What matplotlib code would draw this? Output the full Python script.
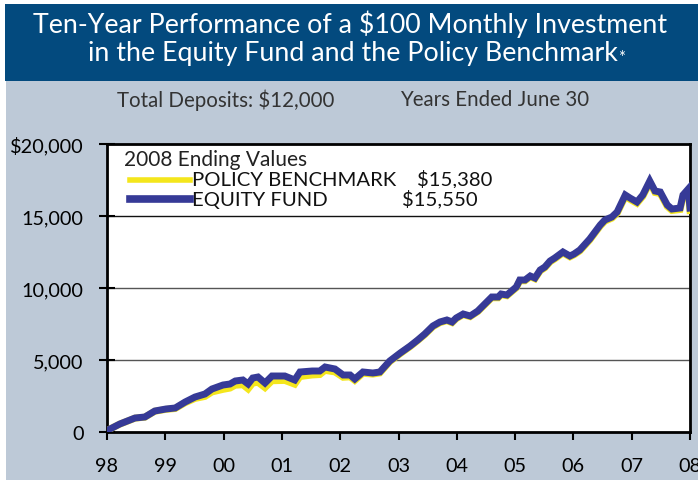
import matplotlib
matplotlib.use('Agg')
import matplotlib.pyplot as plt
from matplotlib.patches import Rectangle
from matplotlib.ticker import FuncFormatter

plt.rcParams['font.family'] = ['Lato', 'DejaVu Sans']

# decimal years (June 30 = .0)
years = [1998.00, 1998.22, 1998.48, 1998.65, 1998.82, 1999.01, 1999.17, 1999.34,
         1999.51, 1999.68, 1999.80, 1999.99, 2000.11, 2000.20, 2000.33, 2000.42,
         2000.50, 2000.59, 2000.71, 2000.83, 2001.05, 2001.22, 2001.31, 2001.52,
         2001.65, 2001.74, 2001.91, 2002.05, 2002.17, 2002.25, 2002.39, 2002.56,
         2002.68, 2002.85, 2003.03, 2003.20, 2003.33, 2003.45, 2003.59, 2003.71,
         2003.83, 2003.92, 2003.99, 2004.11, 2004.23, 2004.36, 2004.48, 2004.60,
         2004.71, 2004.76, 2004.86, 2004.96, 2005.02, 2005.08, 2005.17, 2005.26,
         2005.34, 2005.43, 2005.51, 2005.60, 2005.68, 2005.82, 2005.94, 2006.01,
         2006.11, 2006.28, 2006.46, 2006.54, 2006.66, 2006.75, 2006.89, 2006.97,
         2007.09, 2007.19, 2007.31, 2007.40, 2007.49, 2007.61, 2007.69, 2007.83,
         2007.88, 2007.97, 2008.00]

equity = [100, 556, 972, 1042, 1458, 1597, 1667, 2083,
          2430, 2639, 2986, 3264, 3333, 3542, 3611, 3333,
          3750, 3819, 3403, 3889, 3889, 3611, 4167, 4236,
          4236, 4514, 4375, 3958, 3958, 3681, 4167, 4097,
          4167, 4930, 5486, 5972, 6389, 6805, 7361, 7639,
          7778, 7639, 7917, 8194, 8055, 8402, 8889, 9375,
          9375, 9583, 9514, 9861, 10069, 10555, 10555, 10833,
          10694, 11250, 11458, 11875, 12083, 12500, 12222, 12361,
          12639, 13402, 14375, 14722, 14930, 15277, 16458, 16250,
          15972, 16458, 17430, 16736, 16666, 15764, 15486, 15555,
          16458, 16875, 15550]

benchmark = [100, 550, 960, 1030, 1440, 1570, 1630, 2030,
             2330, 2470, 2780, 2960, 3050, 3250, 3280, 2990,
             3400, 3450, 3080, 3560, 3580, 3320, 3850, 3960,
             3990, 4280, 4170, 3800, 3830, 3580, 4080, 4020,
             4100, 4880, 5440, 5930, 6350, 6760, 7310, 7590,
             7730, 7590, 7870, 8150, 8010, 8360, 8840, 9320,
             9320, 9530, 9460, 9810, 10010, 10500, 10500, 10780,
             10640, 11190, 11400, 11810, 12020, 12430, 12160, 12300,
             12570, 13330, 14300, 14640, 14850, 15190, 16360, 16150,
             15880, 16360, 17320, 16630, 16560, 15660, 15380, 15450,
             16340, 16740, 15380]

xticks = [1998, 1999, 2000, 2001, 2002, 2003, 2004, 2005, 2006, 2007, 2008]
xlabels = ['98', '99', '00', '01', '02', '03', '04', '05', '06', '07', '08']
yticks = [0, 5000, 10000, 15000, 20000]

band = '#034a7e'
bg = '#bdc9d7'
navy = '#363a97'
yellow = '#f4e61c'

fig = plt.figure(figsize=(6.98, 4.81), dpi=100)
W, H = 698.0, 481.0
fig.patches.append(Rectangle((6 / W, 0), 1, 1 - 82 / H, transform=fig.transFigure,
                             facecolor=bg, edgecolor='none', zorder=-2))
fig.patches.append(Rectangle((5 / W, 1 - 82 / H), 1, 77 / H, transform=fig.transFigure,
                             facecolor=band, edgecolor='none', zorder=-2))

fig.text(0.501, 1 - 24 / H, 'Ten-Year Performance of a $100 Monthly Investment',
         color='white', fontsize=19.3, ha='center', va='center')
t2 = fig.text(0.505, 1 - 54 / H, 'in the Equity Fund and the Policy Benchmark',
              color='white', fontsize=19.3, ha='center', va='center')
fig.canvas.draw()
bb = t2.get_window_extent()
fig.text((bb.x1 + 1) / W, 1 - 58 / H, '*', color='white', fontsize=12,
         ha='left', va='center')

fig.text(117 / W, 1 - 100 / H, 'Total Deposits: $12,000', color='#333333',
         fontsize=14.8, ha='left', va='center')
fig.text(400 / W, 1 - 100 / H, 'Years Ended June 30', color='#333333',
         fontsize=14.8, ha='left', va='center')

ax = fig.add_axes([107 / W, 1 - 433 / H, 583 / W, 288 / H])
ax.set_zorder(1)
ax.set_facecolor('white')
ax.plot(years, benchmark, color=yellow, lw=5, solid_joinstyle='miter', zorder=3)
ax.plot(years, equity, color=navy, lw=5, solid_joinstyle='miter', zorder=4)

ax.set_xlim(1998, 2008)
ax.set_ylim(0, 20000)
ax.set_xticks(xticks)
ax.set_xticklabels(xlabels)
ax.set_yticks(yticks)
ax.yaxis.set_major_formatter(FuncFormatter(
    lambda v, p: '$20,000' if v == 20000 else ('0' if v == 0 else f'{int(v):,}')))
for v, c in [(5000, '#555555'), (10000, '#555555'), (15000, '#111111')]:
    ax.axhline(v, color=c, lw=1, zorder=1)

for s in ax.spines.values():
    s.set_linewidth(2)
    s.set_color('black')
ax.tick_params(axis='y', direction='inout', length=12, width=1.5, pad=11,
               labelsize=14.3, colors='black')
ax.tick_params(axis='x', direction='out', length=6, width=1.5, pad=12,
               labelsize=14.3, colors='black')

# legend block
ax.text(1998.30, 18960, '2008 Ending Values', fontsize=15, color='#222222',
        ha='left', va='center')
ax.plot([1998.40, 1999.42], [17520, 17520], color=yellow, lw=4, zorder=5)
ax.plot([1998.40, 1999.42], [16150, 16150], color=navy, lw=5.5, zorder=5)
ax.text(1999.45, 17520, 'POLICY BENCHMARK', fontsize=14.6, color='#111111',
        ha='left', va='center')
ax.text(2003.32, 17620, '$15,380', fontsize=14.6, color='#111111',
        ha='left', va='center')
ax.text(1999.45, 16150, 'EQUITY FUND', fontsize=14.6, color='#111111',
        ha='left', va='center')
ax.text(2003.06, 16250, '$15,550', fontsize=14.6, color='#111111',
        ha='left', va='center', zorder=6,
        bbox=dict(facecolor='white', edgecolor='none', pad=0.5))

fig.savefig('out.png', dpi=100)
